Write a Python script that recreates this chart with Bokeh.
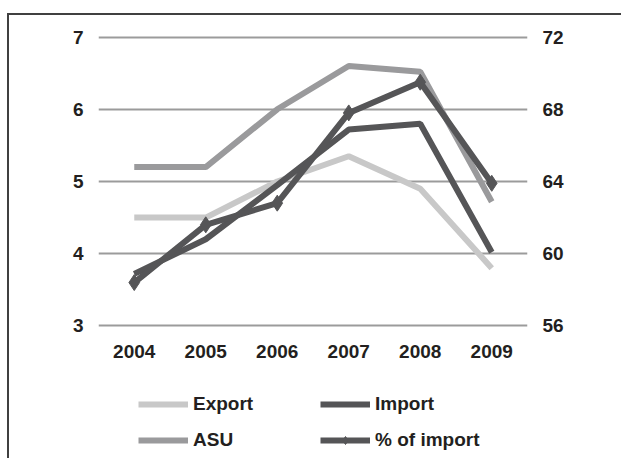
from bokeh.plotting import figure
from bokeh.layouts import column
from bokeh.models import Range1d, LinearAxis, FixedTicker, Legend, LegendItem, FactorRange
from bokeh.embed import file_html
from bokeh.resources import INLINE

years = ["2004", "2005", "2006", "2007", "2008", "2009"]
export = [4.5, 4.5, 5.0, 5.35, 4.9, 3.8]
imports = [3.72, 4.2, 4.95, 5.72, 5.8, 4.02]
asu = [5.2, 5.2, 6.0, 6.6, 6.52, 4.72]
pct_import = [58.4, 61.6, 62.8, 67.8, 69.5, 63.9]
left_ticks = [3, 4, 5, 6, 7]
right_ticks = [56, 60, 64, 68, 72]
series_labels = ["Export", "Import", "ASU", "% of import"]

FONT = "Liberation Sans"
TXT = "#231f20"
FS = "19px"
C_EXP, C_IMP, C_ASU, C_PCT = "#c8c8c8", "#555557", "#9a9a9c", "#555557"

p = figure(
    x_range=FactorRange(*years),
    y_range=Range1d(2.95, 7.05),
    width=612, height=359,
    output_backend="svg", toolbar_location=None,
    min_border_left=89, min_border_right=94, min_border_top=18, min_border_bottom=45,
)
p.extra_y_ranges = {"pct": Range1d(55.8, 72.2)}
p.outline_line_color = None
p.background_fill_color = "white"
p.border_fill_color = "white"

p.xgrid.grid_line_color = None
p.ygrid.ticker = FixedTicker(ticks=left_ticks)
p.ygrid.grid_line_color = "#9b9b9b"
p.ygrid.grid_line_width = 2

right = LinearAxis(y_range_name="pct", ticker=FixedTicker(ticks=right_ticks))
p.add_layout(right, "right")

for ax in [p.xaxis[0], p.yaxis[0], right]:
    ax.axis_line_color = None
    ax.major_tick_line_color = None
    ax.minor_tick_line_color = None
    ax.major_tick_out = 0
    ax.major_tick_in = 0
    ax.major_label_text_font = FONT
    ax.major_label_text_font_style = "bold"
    ax.major_label_text_font_size = FS
    ax.major_label_text_color = TXT
    ax.major_label_standoff = 15
p.yaxis[0].ticker = FixedTicker(ticks=left_ticks)

p.line(years, export, line_color=C_EXP, line_width=6)
p.line(years, imports, line_color=C_IMP, line_width=6)
p.line(years, asu, line_color=C_ASU, line_width=6)
p.line(years, pct_import, line_color=C_PCT, line_width=6, y_range_name="pct")
p.scatter(years, pct_import, marker="diamond", size=16, fill_color=C_PCT,
          line_color=C_PCT, y_range_name="pct")

# legend panel below the chart (legend keys only; NaN so nothing is plotted)
NAN = [float("nan")]
p2 = figure(
    width=612, height=84, x_range=Range1d(0, 1), y_range=Range1d(0, 1),
    output_backend="svg", toolbar_location=None,
    x_axis_location=None, y_axis_location=None,
    min_border_left=0, min_border_right=0, min_border_top=0, min_border_bottom=0,
)
p2.outline_line_color = None
p2.grid.visible = False
k_exp = p2.line(NAN, NAN, line_color=C_EXP, line_width=6)
k_imp = p2.line(NAN, NAN, line_color=C_IMP, line_width=6)
k_asu = p2.line(NAN, NAN, line_color=C_ASU, line_width=6)
k_pct = p2.line(NAN, NAN, line_color=C_PCT, line_width=6)
k_pctm = p2.scatter(NAN, NAN, marker="diamond", size=16, fill_color=C_PCT, line_color=C_PCT)

legend = Legend(
    items=[
        LegendItem(label=series_labels[0], renderers=[k_exp]),
        LegendItem(label=series_labels[1], renderers=[k_imp]),
        LegendItem(label=series_labels[2], renderers=[k_asu]),
        LegendItem(label=series_labels[3], renderers=[k_pct, k_pctm]),
    ],
    orientation="horizontal", ncols=2,
    location=(40, 7),
    glyph_width=50, glyph_height=20, label_height=22, label_width=113,
    label_standoff=5, spacing=14, padding=0, margin=0,
    label_text_font=FONT, label_text_font_style="bold", label_text_font_size=FS,
    label_text_color=TXT,
    border_line_color=None, background_fill_alpha=0,
)
p2.add_layout(legend, "center")

layout = column(
    p, p2, spacing=0,
    styles={"border-top": "2px solid #404040", "border-left": "2px solid #404040",
            "margin-top": "13px", "margin-left": "7px"},
)

open("out.html", "w").write(file_html(layout, INLINE))
